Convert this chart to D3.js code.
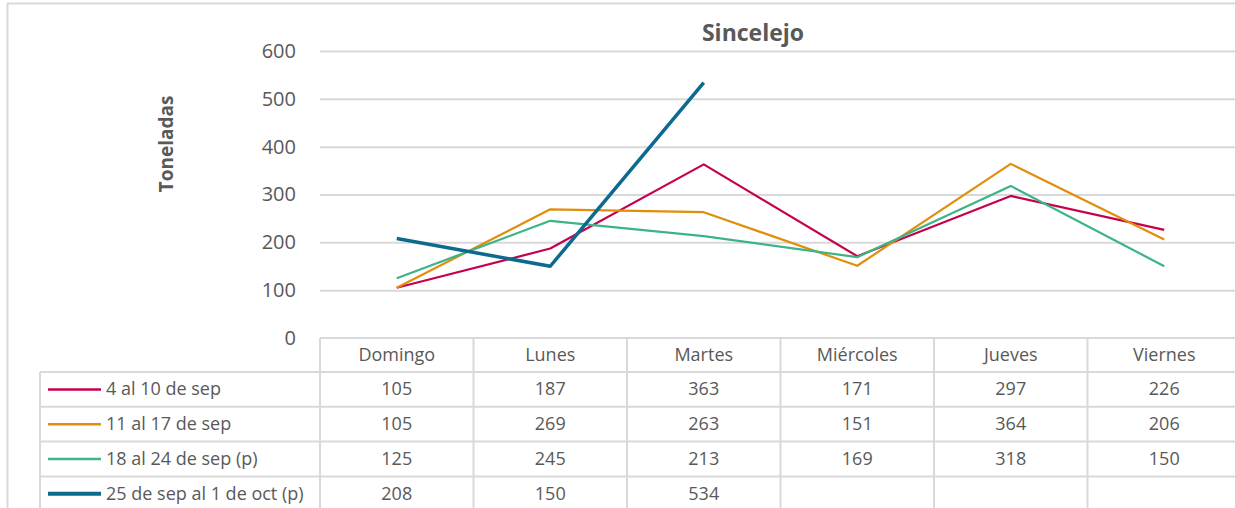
<!DOCTYPE html>
<html>
<head>
<meta charset="utf-8">
<script src="https://cdn.jsdelivr.net/npm/d3@7"></script>
<style>
  body { margin: 0; background: #fff; }
  svg { display: block; font-family: "Open Sans", "Noto Sans", sans-serif; }
</style>
</head>
<body>
<svg id="chart" width="1235" height="508"></svg>
<script>
// datos
var dias = ["Domingo", "Lunes", "Martes", "Miércoles", "Jueves", "Viernes"];
var semanas = ["4 al 10 de sep", "11 al 17 de sep", "18 al 24 de sep (p)", "25 de sep al 1 de oct (p)"];
var sem1 = [105, 187, 363, 171, 297, 226];
var sem2 = [105, 269, 263, 151, 364, 206];
var sem3 = [125, 245, 213, 169, 318, 150];
var sem4 = [208, 150, 534, null, null, null];
var yTicks = [0, 100, 200, 300, 400, 500, 600];
var colores = ["#c5004f", "#e08e0b", "#3cb486", "#0b6a8e"];

var series = [sem1, sem2, sem3, sem4];

var svg = d3.select("#chart"),
    gridColor = "#d9d9d9",
    textColor = "#595959",
    font = "'Open Sans', sans-serif";

var x = d3.scaleBand().domain(dias).range([320, 1241]);
var y = d3.scaleLinear().domain([0, 600]).range([338, 51]);

// marco exterior
svg.append("line").attr("x1", 7).attr("x2", 1235).attr("y1", 3.5).attr("y2", 3.5)
    .attr("stroke", gridColor).attr("stroke-width", 2);
svg.append("line").attr("x1", 7.5).attr("x2", 7.5).attr("y1", 3).attr("y2", 508)
    .attr("stroke", gridColor).attr("stroke-width", 2);

// titulo cortado arriba
svg.append("text").attr("x", 818).attr("y", -5).attr("text-anchor", "middle")
    .attr("font-size", 22).attr("font-weight", "bold").attr("fill", "#000").text("y");

svg.append("text").attr("x", 753).attr("y", 41).attr("text-anchor", "middle")
    .attr("font-size", 23).attr("font-weight", "bold").attr("fill", textColor).text("Sincelejo");

// grid + eje y
var yAxis = svg.append("g").attr("transform", "translate(320,0)")
    .call(d3.axisLeft(y).tickValues(yTicks).tickSize(-915).tickPadding(24).tickFormat(d3.format("d")));
yAxis.select(".domain").remove();
yAxis.selectAll(".tick line").attr("stroke", gridColor).attr("stroke-width", 2)
    .filter(function(d) { return d === 0; }).remove();
yAxis.selectAll(".tick text").attr("font-size", 20).attr("fill", textColor)
    .attr("font-family", font);

svg.append("text").attr("transform", "translate(173,144) rotate(-90)")
    .attr("text-anchor", "middle").attr("font-size", 19).attr("font-weight", "bold")
    .attr("fill", textColor).text("Toneladas");

// lineas
var line = d3.line()
    .defined(function(d) { return d != null; })
    .x(function(d, i) { return x(dias[i]) + x.bandwidth() / 2; })
    .y(function(d) { return y(d); });

series.forEach(function(s, k) {
    svg.append("path").datum(s)
        .attr("d", line)
        .attr("fill", "none")
        .attr("stroke", colores[k])
        .attr("stroke-width", k === 3 ? 3.5 : 2.2)
        .attr("stroke-linejoin", "round");
});

// tabla de datos
var tableTop = 338, headH = 34, rowH = 34.8, tableBottom = 508;
var rowY = function(i) { return tableTop + headH + rowH * i; };

var tabla = svg.append("g").attr("stroke", gridColor).attr("stroke-width", 2);
tabla.append("line").attr("x1", 320).attr("x2", 1235).attr("y1", tableTop).attr("y2", tableTop);
for (var i = 0; i < semanas.length; i++) {
    tabla.append("line").attr("x1", 40).attr("x2", 1235).attr("y1", rowY(i)).attr("y2", rowY(i));
}
tabla.append("line").attr("x1", 40).attr("x2", 40).attr("y1", rowY(0)).attr("y2", tableBottom);
dias.forEach(function(d) {
    tabla.append("line").attr("x1", x(d)).attr("x2", x(d)).attr("y1", tableTop).attr("y2", tableBottom);
});

dias.forEach(function(d) {
    svg.append("text").attr("x", x(d) + x.bandwidth() / 2).attr("y", tableTop + headH / 2 + 6)
        .attr("text-anchor", "middle").attr("font-size", 18).attr("fill", textColor).text(d);
});

series.forEach(function(s, k) {
    var cy = rowY(k) + rowH / 2;
    svg.append("line").attr("x1", 48).attr("x2", 101).attr("y1", cy).attr("y2", cy)
        .attr("stroke", colores[k]).attr("stroke-width", k === 3 ? 4 : 2.5);
    svg.append("text").attr("x", 106).attr("y", cy + 6).attr("font-size", 18)
        .attr("fill", textColor).text(semanas[k]);
    s.forEach(function(v, i) {
        if (v == null) return;
        svg.append("text").attr("x", x(dias[i]) + x.bandwidth() / 2).attr("y", cy + 6)
            .attr("text-anchor", "middle").attr("font-size", 18).attr("fill", textColor).text(v);
    });
});
</script>
</body>
</html>
